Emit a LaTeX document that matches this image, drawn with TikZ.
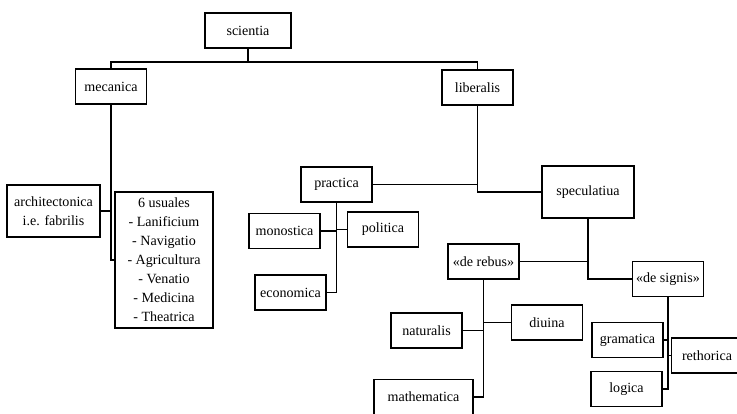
\documentclass[tikz,border=0pt]{standalone}
\usepackage{fontspec}
\setmainfont{Liberation Serif}
\usetikzlibrary{positioning}

\begin{document}
\begin{tikzpicture}[x=0.03cm,y=-0.03cm,line width=1.1pt,
    every node/.append style={align=center,font=\fontsize{12}{16.2}\selectfont},
    box/.style={draw, inner sep=2pt, minimum width=2.13cm, minimum height=1.05cm}]
    \clip (0,0) rectangle (737,413);

    \node [box, minimum width=2.58cm] (scientia) at (248,30.5) {scientia};
    \node [box] (mecanica)  at (111,86.5)  {mecanica};
    \node [box] (liberalis) at (477.5,87.5) {liberalis};

    \node [box, minimum width=2.79cm, minimum height=1.56cm] (architectonica) at (53.5,211) {architectonica\\i.e. fabrilis};
    \node [box, minimum width=2.94cm, minimum height=4.08cm] (usuales) at (164,260)
        {6 usuales\\- Lanificium\\- Navigatio\\- Agricultura\\- Venatio\\- Medicina\\- Theatrica};

    \node [box] (practica) at (336.5,184.5) {practica};
    \node [box, minimum width=2.76cm, minimum height=1.56cm] (speculatiua) at (588,192) {speculatiua};

    \node [box] (monostica) at (284.5,231)   {monostica};
    \node [box] (politica)  at (383,229.5)   {politica};
    \node [box] (economica) at (290.5,292.5) {economica};

    \node [box] (derebus)  at (483.5,261.5) {«de rebus»};
    \node [box] (designis) at (668,279)     {«de signis»};

    \node [box] (naturalis) at (426.5,330.5) {naturalis};
    \node [box] (diuina)    at (547,322.5)   {diuina};
    \node [box, minimum width=2.97cm] (mathematica) at (423.5,397) {mathematica};

    \node [box] (gramatica) at (627.5,340)   {gramatica};
    \node [box] (rethorica) at (707,355.5)   {rethorica};
    \node [box] (logica)    at (626.5,389)   {logica};

    % scientia
    \coordinate (split) at (248,62);
    \draw (scientia.south) -- (split);
    \draw (mecanica.north) |- (split) -| (liberalis.north);

    % mecanica
    \draw (mecanica.south) |- (usuales.west);
    \draw (architectonica.east) -- (architectonica.east -| mecanica.south);

    % liberalis
    \draw (liberalis.south) |- (speculatiua.west);
    \draw (practica.east) -- (practica.east -| liberalis.south);

    % practica
    \draw (practica.south) |- (economica.east);
    \draw (monostica.east) -- (monostica.east -| practica.south);
    \draw (politica.west) -- (politica.west -| practica.south);

    % speculatiua
    \draw (speculatiua.south) |- (designis.west);
    \draw (derebus.east) -- (derebus.east -| speculatiua.south);

    % de rebus
    \draw (derebus.south) |- (mathematica.east);
    \draw (naturalis.east) -- (naturalis.east -| derebus.south);
    \draw (diuina.west) -- (diuina.west -| derebus.south);

    % de signis
    \draw (designis.south) |- (logica.east);
    \draw (gramatica.east) -- (gramatica.east -| designis.south);
    \draw (rethorica.west) -- (rethorica.west -| designis.south);
\end{tikzpicture}
\end{document}
